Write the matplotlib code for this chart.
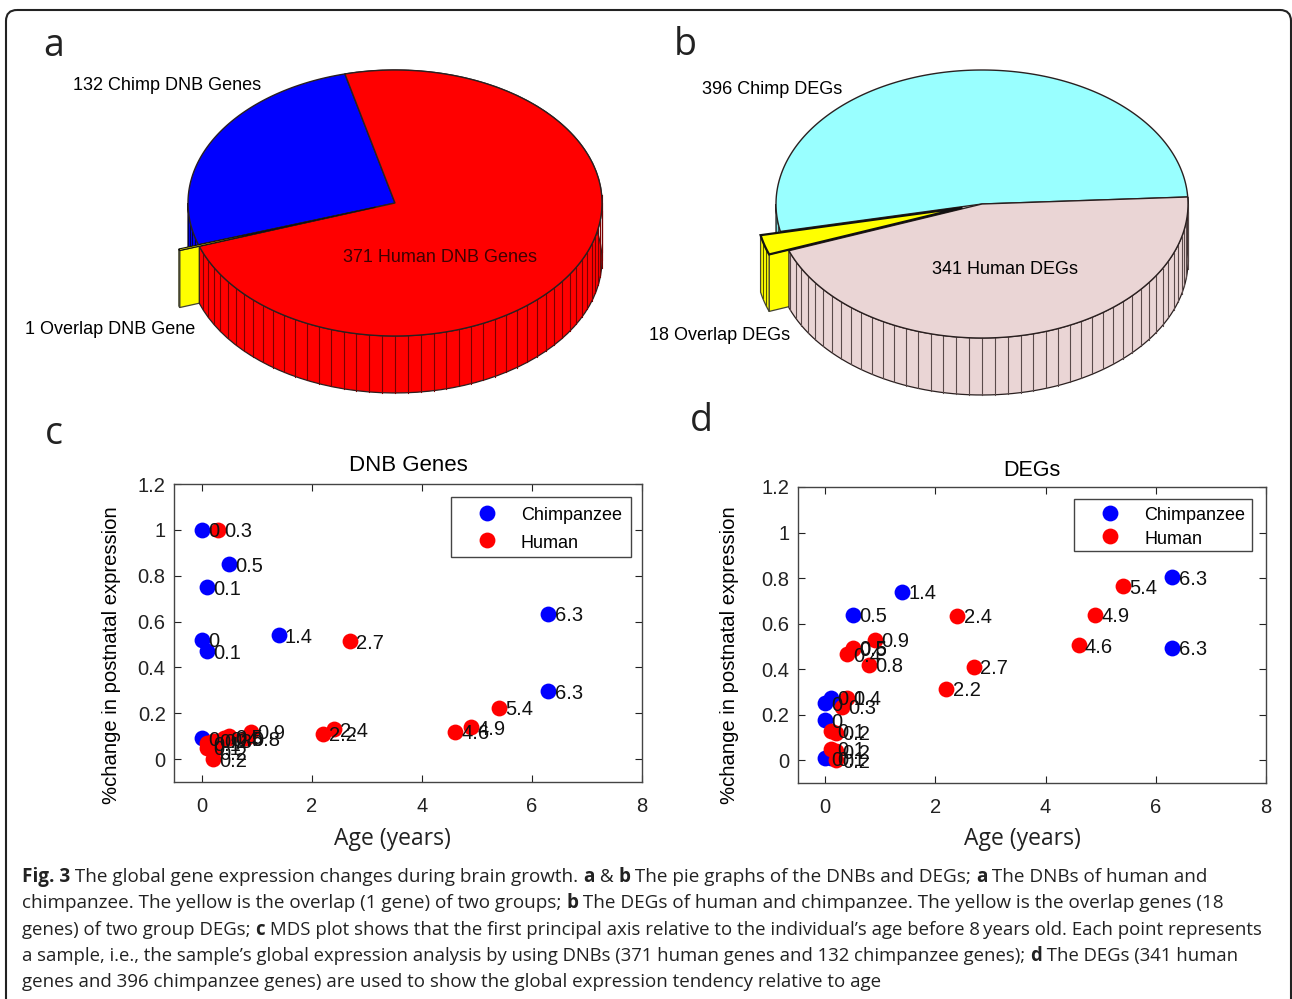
import numpy as np
import matplotlib
matplotlib.use("Agg")
import matplotlib.pyplot as plt
from matplotlib.patches import Polygon, FancyBboxPatch

W, H = 1292, 999

# pie data
pie_a_values = [132, 1, 371]
pie_b_values = [396, 18, 341]
pie_a_colors = ["#0000ff", "#ffff00", "#ff0000"]
pie_b_colors = ["#99ffff", "#ffff00", "#ead5d5"]
pie_a_stripes = ["#000050", "#555500", "#7a0000"]
pie_b_stripes = ["#335555", "#555500", "#5a4a4a"]

# panel c: DNB genes
c_chimp_age = [0, 0.5, 0.1, 0, 0.1, 1.4, 6.3, 6.3, 0]
c_chimp_val = [1.0, 0.85, 0.75, 0.52, 0.47, 0.54, 0.635, 0.295, 0.09]
c_chimp_lab = ["0", "0.5", "0.1", "0", "0.1", "1.4", "6.3", "6.3", "0"]
c_human_age = [0.3, 2.7, 5.4, 4.9, 4.6, 2.4, 2.2, 0.9, 0.8, 0.5, 0.5, 0.4, 0.3, 0.2, 0.1, 0.1, 0.2, 0.2]
c_human_val = [1.0, 0.515, 0.225, 0.14, 0.12, 0.13, 0.11, 0.12, 0.09, 0.1, 0.09, 0.09, 0.08, 0.08, 0.07, 0.05, 0.03, 0.0]
c_human_lab = ["0.3", "2.7", "5.4", "4.9", "4.6", "2.4", "2.2", "0.9", "0.8", "0.5", "0.5", "0.4", "0.3", "0.2", "0.1", "0.1", "0.2", "0.2"]

# panel d: DEGs
d_chimp_age = [0.5, 1.4, 6.3, 6.3, 0.1, 0, 0, 0, 0.1]
d_chimp_val = [0.64, 0.74, 0.805, 0.495, 0.275, 0.25, 0.175, 0.01, 0.01]
d_chimp_lab = ["0.5", "1.4", "6.3", "6.3", "0.1", "0", "0", "0", "0.1"]
d_human_age = [2.4, 2.7, 2.2, 5.4, 4.9, 4.6, 0.9, 0.5, 0.5, 0.4, 0.8, 0.4, 0.3, 0.1, 0.2, 0.1, 0.2, 0.2]
d_human_val = [0.635, 0.41, 0.315, 0.765, 0.64, 0.505, 0.53, 0.495, 0.49, 0.465, 0.42, 0.275, 0.235, 0.13, 0.12, 0.05, 0.04, 0.0]
d_human_lab = ["2.4", "2.7", "2.2", "5.4", "4.9", "4.6", "0.9", "0.5", "0.5", "0.4", "0.8", "0.4", "0.3", "0.1", "0.2", "0.1", "0.2", "0.2"]

plt.rcParams["font.family"] = ["Liberation Sans", "DejaVu Sans"]

fig = plt.figure(figsize=(W / 100, H / 100), dpi=100)
bg = fig.add_axes([0, 0, 1, 1])
bg.set_xlim(0, W)
bg.set_ylim(H, 0)
bg.axis("off")

EDGE = "#2a2020"


def rim(cx, cy, rx, ry, t0, t1, n=80):
    t = np.radians(np.linspace(t0, t1, n))
    return np.column_stack([cx + rx * np.cos(t), cy - ry * np.sin(t)])


def draw_side(ax, cx, cy, rx, ry, depth, t0, t1, color, stripe, z):
    # side wall below the rim, cut in 3.6 degree slices
    t0c = max(t0, 180)
    if t1 <= t0c:
        return
    top = rim(cx, cy, rx, ry, t0c, t1)
    poly = np.vstack([top, top[::-1] + [0, depth]])
    ax.add_patch(Polygon(poly, closed=True, fc=color, ec=EDGE, lw=0.9, zorder=z))
    for a in np.arange(np.ceil(t0c / 3.6) * 3.6, t1, 3.6):
        p = rim(cx, cy, rx, ry, a, a, 1)[0]
        ax.plot([p[0], p[0]], [p[1], p[1] + depth], color=stripe, lw=0.8, zorder=z + 0.01)


def draw_pie(ax, values, colors, stripes, cx, cy, rx, ry, depth, start, lift, slice_lw):
    total = sum(values)
    a = start
    for i, (v, col, st) in enumerate(zip(values, colors, stripes)):
        sweep = v / total * 360
        if i == 1:
            # the overlap slice is pulled out of the pie
            a0, a1 = a, a + sweep
            mid = np.radians((a0 + a1) / 2)
            ccx, ccy = cx + lift * rx * np.cos(mid), cy - lift * ry * np.sin(mid)
            r = rim(ccx, ccy, rx, ry, a0, a1, 12)
            tip = np.array([ccx, ccy])
            # straight cut wall, the human slice hides most of it
            cut = np.array([r[-1], tip, tip + [0, depth], r[-1] + [0, depth]])
            ax.add_patch(Polygon(cut, closed=True, fc=col, ec="#444433", lw=0.9, zorder=1.6))
            wall = np.vstack([r, r[::-1] + [0, depth]])
            ax.add_patch(Polygon(wall, closed=True, fc=col, ec="#444433", lw=0.9, zorder=1.7))
            for a_s in np.arange(np.ceil(a0 / 3.6) * 3.6, a1, 3.6):
                p = rim(ccx, ccy, rx, ry, a_s, a_s, 1)[0]
                ax.plot([p[0], p[0]], [p[1], p[1] + depth], color=st, lw=0.8, zorder=1.71)
            ax.add_patch(Polygon(np.vstack([tip, r]), closed=True, fc=col, ec="#111111", lw=slice_lw, zorder=5))
        else:
            draw_side(ax, cx, cy, rx, ry, depth, a, a + sweep, col, st, 1.4 if i == 0 else 2)
            ax.add_patch(Polygon(np.vstack([[cx, cy], rim(cx, cy, rx, ry, a, a + sweep, 200)]),
                                 closed=True, fc=col, ec=EDGE, lw=1.0, zorder=4))
        a += sweep


draw_pie(bg, pie_a_values, pie_a_colors, pie_a_stripes, 395, 203, 207, 133, 57, 104, 0.1, 0.8)
draw_pie(bg, pie_b_values, pie_b_colors, pie_b_stripes, 982, 204, 206, 134, 57, 3, 0.1, 1.6)

lab_fs = 13
bg.text(73, 86, "132 Chimp DNB Genes", fontsize=lab_fs, va="center", zorder=6)
bg.text(343, 257, "371 Human DNB Genes", fontsize=lab_fs, va="center", color="#400000", zorder=6)
bg.text(25, 329, "1 Overlap DNB Gene", fontsize=lab_fs, va="center", zorder=6)
bg.text(702, 90, "396 Chimp DEGs", fontsize=lab_fs, va="center", zorder=6)
bg.text(932, 269, "341 Human DEGs", fontsize=lab_fs, va="center", zorder=6)
bg.text(649, 335, "18 Overlap DEGs", fontsize=lab_fs, va="center", zorder=6)

for letter, x, y in [("a", 54, 46), ("b", 685, 45), ("c", 54, 434), ("d", 701, 421)]:
    bg.text(x, y, letter, fontsize=27, family="Open Sans", ha="center", va="center", color="#222222")

# frame round the whole figure, running off the bottom
bg.add_patch(FancyBboxPatch((6, 10), 1285, 1040, boxstyle="round,pad=0,rounding_size=11",
                            fc="none", ec="#222222", lw=1.5, zorder=1, clip_on=True))


def scatter_panel(box, title, title_fs, title_pad, chimp, human, legbox, ylab_x, xlab_x):
    left, top, right, bottom = box
    ax = fig.add_axes([left / W, 1 - bottom / H, (right - left) / W, (bottom - top) / H])
    ax.patch.set_alpha(0)
    for (xs, ys, labs, col) in (chimp + ("#0000ff",), human + ("#ff0000",)):
        ax.scatter(xs, ys, s=130, color=col, linewidths=0, zorder=3)
        for x, y, lab in zip(xs, ys, labs):
            ax.annotate(lab, (x, y), xytext=(4.5, -1.5), textcoords="offset points",
                        fontsize=14.5, va="center", color="#111111", zorder=4)
    ax.set_xlim(-0.5, 8)
    ax.set_ylim(-0.1, 1.2)
    ax.set_xticks([0, 2, 4, 6, 8])
    ax.set_xticklabels(["0", "2", "4", "6", "8"])
    ax.set_yticks([0, 0.2, 0.4, 0.6, 0.8, 1, 1.2])
    ax.set_yticklabels(["0", "0.2", "0.4", "0.6", "0.8", "1", "1.2"])
    ax.tick_params(direction="in", top=True, right=True, length=5, width=0.8,
                   labelsize=14.5, colors="#222222", pad=6)
    ax.tick_params(axis="x", pad=10.5)
    for s in ax.spines.values():
        s.set_color("#444444")
        s.set_linewidth(1)
    ax.set_title(title, fontsize=title_fs, pad=title_pad)
    ax.set_ylabel("%change in postnatal expression", fontsize=14.6)
    ax.yaxis.set_label_coords((ylab_x + 12 - left) / (right - left), (bottom - 655) / (bottom - top))
    ax.set_xlabel("Age (years)", fontsize=16.5, family="Open Sans", color="#222222")
    ax.xaxis.set_label_coords((xlab_x - left) / (right - left), (bottom - 827) / (bottom - top))

    lx0, ly0, lx1, ly1 = legbox
    bg.add_patch(plt.Rectangle((lx0, ly0), lx1 - lx0, ly1 - ly0, fc="white", ec="#444444", lw=1, zorder=6))
    rows = [(ly0 + (ly1 - ly0) * 0.28, "Chimpanzee", "#0000ff"), (ly0 + (ly1 - ly0) * 0.74, "Human", "#ff0000")]
    for y, name, col in rows:
        bg.scatter([lx0 + 36], [y - 1], s=130, color=col, linewidths=0, zorder=7)
        bg.text(lx0 + 70, y + 2, name, fontsize=13, va="center", zorder=7)
    return ax


# legend boxes go over the axes, so bg has to sit on top of them
ax_c = scatter_panel((174, 484, 642, 782), "DNB Genes", 16, 9.5,
                     (c_chimp_age, c_chimp_val, c_chimp_lab),
                     (c_human_age, c_human_val, c_human_lab), (451, 497, 631, 557), 109, 392)
ax_d = scatter_panel((797.5, 487, 1266, 783), "DEGs", 15.5, 8,
                     (d_chimp_age, d_chimp_val, d_chimp_lab),
                     (d_human_age, d_human_val, d_human_lab), (1074, 499, 1252, 551), 727, 1022)
bg.set_zorder(10)
bg.set_xlim(0, W)
bg.set_ylim(H, 0)

# the caption is justified in the paper, so each line gets its own size
caption = [
    (877, 13.55, [("Fig. 3", True), (" The global gene expression changes during brain growth. ", False), ("a", True), (" & ", False), ("b", True),
                  (" The pie graphs of the DNBs and DEGs; ", False), ("a", True), (" The DNBs of human and", False)]),
    (903, 13.57, [("chimpanzee. The yellow is the overlap (1 gene) of two groups; ", False), ("b", True),
                  (" The DEGs of human and chimpanzee. The yellow is the overlap genes (18", False)]),
    (930, 13.4, [("genes) of two group DEGs; ", False), ("c", True),
                 (" MDS plot shows that the first principal axis relative to the individual\u2019s age before 8\u2009years old. Each point represents", False)]),
    (956, 13.35, [("a sample, i.e., the sample\u2019s global expression analysis by using DNBs (371 human genes and 132 chimpanzee genes); ", False),
                  ("d", True), (" The DEGs (341 human", False)]),
    (982, 13.5, [("genes and 396 chimpanzee genes) are used to show the global expression tendency relative to age", False)]),
]
renderer = fig.canvas.get_renderer()
for y, size, parts in caption:
    x = 22
    for txt, bold in parts:
        t = bg.text(x, y, txt, fontsize=size, family="Open Sans", weight="bold" if bold else "normal",
                    va="center", color="#222222", zorder=8)
        # advance by the real width
        x += t.get_window_extent(renderer).width

fig.savefig("out.png", dpi=100)
